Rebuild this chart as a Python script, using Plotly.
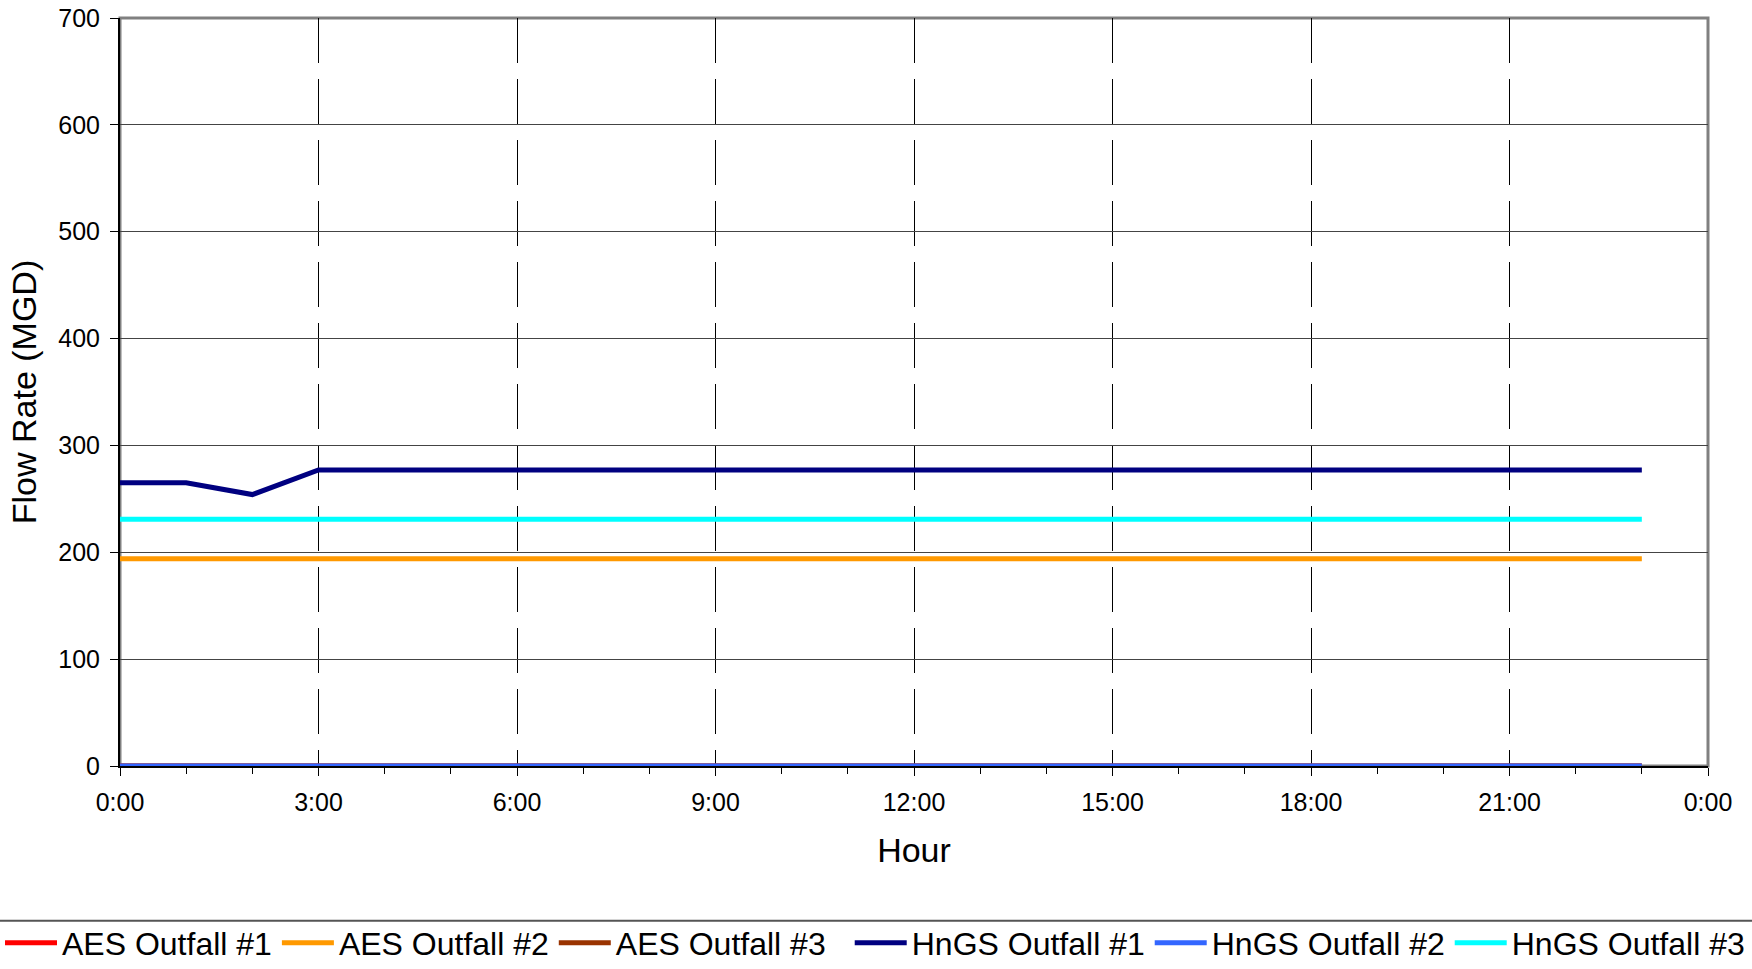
import plotly.graph_objects as go

# hourly flow rates (MGD), 0:00 .. 23:00
hours = list(range(24))
aes_1 = [0] * 24
aes_2 = [194] * 24
aes_3 = [0] * 24
hngs_1 = [265, 265, 254] + [277] * 21
hngs_2 = [0] * 24
hngs_3 = [231] * 24

tick_hours = [0, 3, 6, 9, 12, 15, 18, 21, 24]
tick_labels = ["0:00", "3:00", "6:00", "9:00", "12:00", "15:00", "18:00", "21:00", "0:00"]

series = [
    ("AES Outfall #1", aes_1, "#FF0000", "legend"),
    ("AES Outfall #2", aes_2, "#FF9900", "legend"),
    ("AES Outfall #3", aes_3, "#993300", "legend"),
    ("HnGS Outfall #1", hngs_1, "#000080", "legend2"),
    ("HnGS Outfall #2", hngs_2, "#3366FF", "legend2"),
    ("HnGS Outfall #3", hngs_3, "#00FFFF", "legend2"),
]

fig = go.Figure()
for name, vals, col, leg in series:
    fig.add_trace(go.Scatter(x=hours, y=vals, name=name, mode="lines", legend=leg,
                             line=dict(color=col, width=5), cliponaxis=False))

font = "Arial, Liberation Sans, sans-serif"
# the legend row is split in two so that it stays on one line
leg_style = dict(orientation="h", xref="container", yref="container",
                 xanchor="left", y=0.027, yanchor="middle",
                 font=dict(size=32, family=font), itemwidth=52,
                 tracegroupgap=0, bgcolor="rgba(0,0,0,0)")

fig.update_layout(
    width=1752, height=969,
    margin=dict(l=120, r=44, t=18, b=203, autoexpand=False),
    paper_bgcolor="white", plot_bgcolor="white",
    font=dict(family=font, color="black", size=25),
    showlegend=True,
    legend=dict(x=0.0, **leg_style),
    legend2=dict(x=0.485, **leg_style),
)

fig.update_xaxes(
    range=[0, 24], tickvals=tick_hours, ticktext=tick_labels,
    showline=True, linecolor="black", linewidth=2,
    ticks="outside", ticklen=8, tickcolor="black", tickwidth=1,
    showgrid=True, gridcolor="black", gridwidth=1, griddash="45px,16px",
    minor=dict(dtick=1, ticks="outside", ticklen=6, tickcolor="black", showgrid=False),
    zeroline=False, ticklabelstandoff=5, automargin=False,
    tickfont=dict(size=25),
    title=dict(text="Hour", font=dict(size=34), standoff=23),
)
fig.update_yaxes(
    range=[0, 700], dtick=100,
    showline=True, linecolor="black", linewidth=2,
    ticks="outside", ticklen=8, tickcolor="black", tickwidth=1,
    showgrid=True, gridcolor="#444444", gridwidth=1,
    zeroline=False, ticklabelstandoff=5, automargin=False,
    tickfont=dict(size=25),
    title=dict(text="Flow Rate (MGD)", font=dict(size=34), standoff=11),
)

# grey plot-area border (top and right)
fig.add_shape(type="rect", xref="x domain", yref="y domain", x0=0, x1=1, y0=0, y1=1,
              line=dict(color="#808080", width=3), layer="below")
# separator above the legend
fig.add_shape(type="line", xref="paper", yref="paper", x0=-1, x1=2, y0=-0.207, y1=-0.207,
              line=dict(color="#555555", width=2))

fig.write_html("out.html", config={"displayModeBar": False},
               post_script="document.body.style.margin='0';")
